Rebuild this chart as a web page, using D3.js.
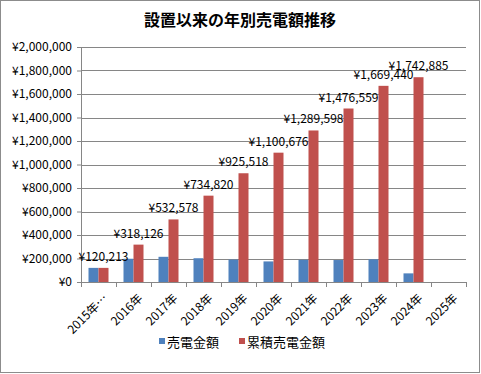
<!DOCTYPE html>
<html>
<head>
<meta charset="utf-8">
<script src="https://cdn.jsdelivr.net/npm/d3@7"></script>
<style>
  body { margin: 0; background: #fff; }
  svg text { font-family: "Noto Sans CJK JP", "Noto Sans", sans-serif; fill: #000; }
</style>
</head>
<body>
<div id="chart"></div>
<script>
const years = ['2015年…', '2016年', '2017年', '2018年', '2019年', '2020年', '2021年', '2022年', '2023年', '2024年', '2025年'];
const annual = [120213, 197913, 214452, 202242, 190698, 175158, 188922, 186961, 192881, 73445, null];
const cumulative = [120213, 318126, 532578, 734820, 925518, 1100676, 1289598, 1476559, 1669440, 1742885, null];
const yTickValues = [0, 200000, 400000, 600000, 800000, 1000000, 1200000, 1400000, 1600000, 1800000, 2000000];
const seriesNames = ['売電金額', '累積売電金額'];
const colors = ['#4F81BD', '#C0504D'];

const width = 481;
const height = 374;
const margin = {left: 81, right: 15, top: 47, bottom: 92};
const innerWidth = width - margin.left - margin.right;
const innerHeight = height - margin.top - margin.bottom;

const svg = d3.select('#chart').append('svg')
  .attr('width', width)
  .attr('height', height);

// chart border
svg.append('rect')
  .attr('x', 0.5).attr('y', 0.5)
  .attr('width', 479).attr('height', 372)
  .attr('fill', '#fff')
  .attr('stroke', '#8c8c8c');

svg.append('text')
  .attr('x', 240)
  .attr('y', 26)
  .attr('text-anchor', 'middle')
  .style('font-size', '16px')
  .style('font-weight', 'bold')
  .text('設置以来の年別売電額推移');

const g = svg.append('g')
  .attr('transform', `translate(${margin.left},${margin.top})`);

const xScale = d3.scaleBand()
  .domain(years)
  .range([0, innerWidth]);

const xSub = d3.scaleBand()
  .domain([0, 1])
  .range([0, xScale.bandwidth()])
  .paddingOuter(0.75);

const yScale = d3.scaleLinear()
  .domain([0, 2000000])
  .range([innerHeight, 0]);

const fmt = d => '¥' + d3.format(',')(d);

// gridlines + y axis
const yAxis = d3.axisLeft(yScale)
  .tickValues(yTickValues)
  .tickFormat(fmt)
  .tickSize(4)
  .tickPadding(5);
const yAxisG = g.append('g').call(yAxis);
yAxisG.select('.domain').attr('stroke', '#868686');
yAxisG.selectAll('.tick line').attr('stroke', '#868686');
yAxisG.selectAll('.tick text').style('font-size', '12px');

g.append('g')
  .selectAll('line')
  .data(yTickValues.filter(d => d > 0))
  .enter().append('line')
  .attr('x1', 0)
  .attr('x2', innerWidth)
  .attr('y1', d => Math.round(yScale(d)) + 0.5)
  .attr('y2', d => Math.round(yScale(d)) + 0.5)
  .attr('stroke', '#868686');

// bars
const series = [annual, cumulative];
series.forEach((vals, si) => {
  g.append('g')
    .selectAll('rect')
    .data(years.map((y, i) => ({year: y, value: vals[i]})).filter(d => d.value != null))
    .enter().append('rect')
    .attr('x', d => xScale(d.year) + xSub(si))
    .attr('width', xSub.bandwidth())
    .attr('y', d => yScale(d.value))
    .attr('height', d => innerHeight - yScale(d.value))
    .attr('fill', colors[si]);
});

// data labels on cumulative
g.append('g')
  .selectAll('text')
  .data(years.map((y, i) => ({year: y, value: cumulative[i]})).filter(d => d.value != null))
  .enter().append('text')
  .attr('x', d => xScale(d.year) + xSub(1) + xSub.bandwidth() / 2)
  .attr('y', d => yScale(d.value) - 7)
  .attr('text-anchor', 'middle')
  .style('font-size', '12px')
  .text(d => fmt(d.value));

// x axis
const xAxisG = g.append('g')
  .attr('transform', `translate(0,${innerHeight})`);
xAxisG.append('line')
  .attr('x1', 0).attr('x2', innerWidth)
  .attr('y1', 0.5).attr('y2', 0.5)
  .attr('stroke', '#868686');
xAxisG.selectAll('.xtick')
  .data(years.map(y => xScale(y)).concat([innerWidth]))
  .enter().append('line')
  .attr('x1', d => Math.round(d) + 0.5)
  .attr('x2', d => Math.round(d) + 0.5)
  .attr('y1', 0).attr('y2', 5)
  .attr('stroke', '#868686');
xAxisG.selectAll('.xlabel')
  .data(years)
  .enter().append('text')
  .attr('transform', d => `translate(${xScale(d) + xScale.bandwidth() / 2 + 4},${11}) rotate(-45)`)
  .attr('text-anchor', 'end')
  .attr('dy', '0.7em')
  .style('font-size', '12px')
  .text(d => d);

// legend
const legend = svg.append('g').attr('transform', 'translate(159,342)');
const legendX = [0, 80];
seriesNames.forEach((name, i) => {
  legend.append('rect')
    .attr('x', legendX[i]).attr('y', -4)
    .attr('width', 6).attr('height', 6)
    .attr('fill', colors[i]);
  legend.append('text')
    .attr('x', legendX[i] + 8)
    .attr('y', 5)
    .style('font-size', '13px')
    .text(name);
});
</script>
</body>
</html>
